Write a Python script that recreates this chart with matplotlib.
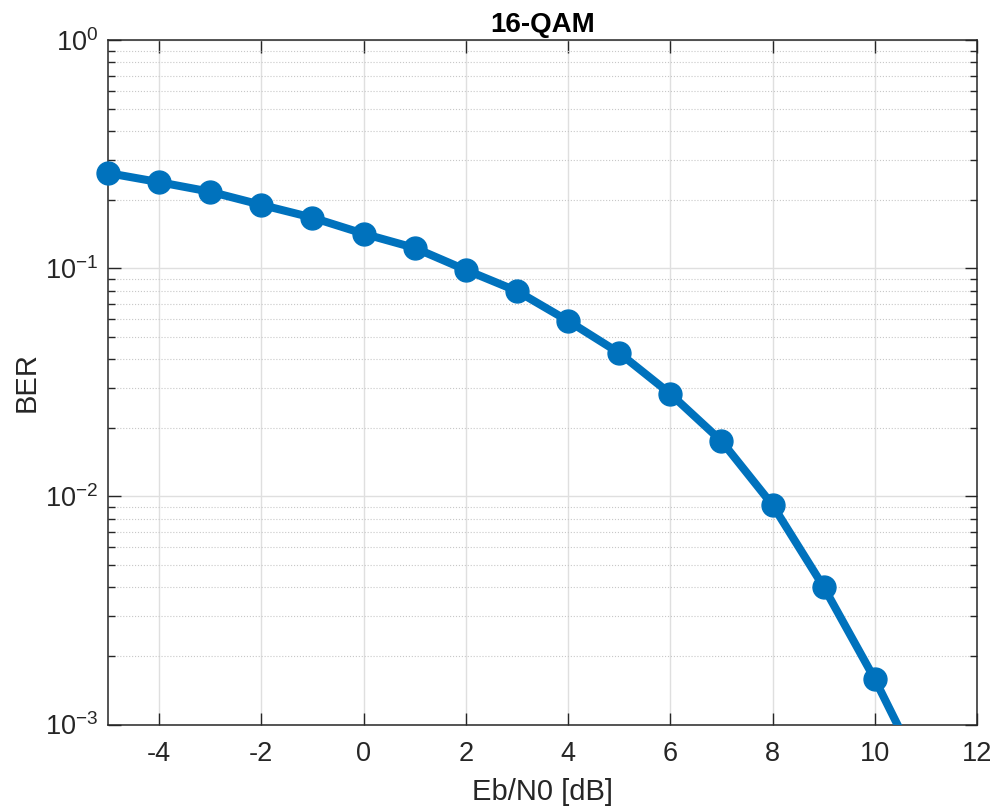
import numpy as np
import matplotlib
matplotlib.use('Agg')
import matplotlib.pyplot as plt
from matplotlib.ticker import LogLocator, FixedLocator

plt.rcParams['font.family'] = ['Liberation Sans', 'DejaVu Sans']
plt.rcParams['axes.unicode_minus'] = False
plt.rcParams['mathtext.fontset'] = 'custom'
plt.rcParams['mathtext.rm'] = 'Liberation Sans'
plt.rcParams['mathtext.it'] = 'Liberation Sans:italic'
plt.rcParams['mathtext.bf'] = 'Liberation Sans:bold'

# BER curve
ebn0 = [-5, -4, -3, -2, -1, 0, 1, 2, 3, 4, 5, 6, 7, 8, 9, 10, 11]
ber = [0.262, 0.239, 0.217, 0.190, 0.167, 0.142, 0.123, 0.0985, 0.0796,
       0.0589, 0.0426, 0.0282, 0.0175, 0.00917, 0.00401, 0.00158, 0.00056]
xticks = [-4, -2, 0, 2, 4, 6, 8, 10, 12]

blue = '#0072BD'
dark = '#262626'

fig = plt.figure(figsize=(9.95, 8.08), dpi=100)
ax = fig.add_axes([0.1085, 0.1033, 0.8735, 0.8467])

ax.plot(ebn0, ber, color=blue, linewidth=5.8, solid_capstyle='butt', zorder=3)
x = np.array(ebn0)
y = np.array(ber)
inside = y >= 1e-3
ax.plot(x[inside], y[inside], linestyle='none', marker='o', markersize=16.5,
        color=blue, clip_on=False, zorder=4)

ax.set_yscale('log')
ax.set_xlim(-5, 12)
ax.set_ylim(1e-3, 1)
ax.xaxis.set_major_locator(FixedLocator(xticks))
ax.yaxis.set_major_locator(LogLocator(base=10, numticks=10))
ax.yaxis.set_minor_locator(LogLocator(base=10, subs=np.arange(2, 10), numticks=20))

ax.grid(True, which='major', color='#dfdfdf', linewidth=1.0, linestyle='-')
ax.grid(True, which='minor', axis='y', color='#c8c8c8', linewidth=0.8, linestyle=':')
ax.set_axisbelow(True)

ax.tick_params(which='both', direction='in', top=True, right=True, colors=dark,
               labelsize=19.5, width=1.0)
ax.tick_params(which='major', length=9, pad=7)
ax.tick_params(axis='x', which='major', pad=12)
ax.tick_params(which='minor', length=5)
for s in ax.spines.values():
    s.set_color(dark)
    s.set_linewidth(1.1)

ax.set_xlabel('Eb/N0 [dB]', fontsize=21, color=dark, labelpad=8)
ax.set_ylabel('BER', fontsize=21, color=dark, labelpad=3)
ax.set_title('16-QAM', fontsize=20, fontweight='bold', color='black', pad=6)

fig.savefig('out.png', dpi=100)
